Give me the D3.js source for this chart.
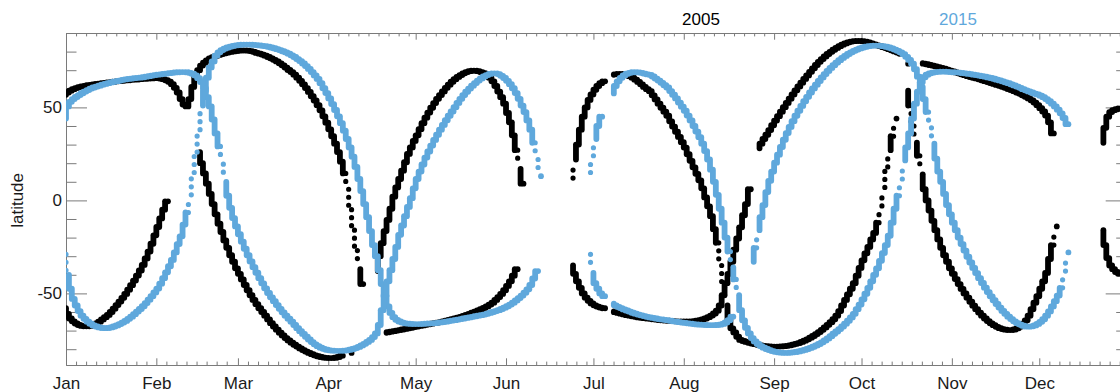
<!DOCTYPE html>
<html><head><meta charset="utf-8">
<script src="https://cdn.jsdelivr.net/npm/d3@7"></script>
<style>
html,body{margin:0;padding:0;background:#fff;}
svg{display:block;}
text{font-family:"Liberation Sans",Arial,Helvetica,sans-serif;}
</style></head><body>
<svg id="chart" width="1120" height="392"></svg>
<script>
// ---------- tick labels / categories ----------
const monthLabels = ["Jan","Feb","Mar","Apr","May","Jun","Jul","Aug","Sep","Oct","Nov","Dec"];
const monthStartDays = [0,31,59,90,120,151,181,212,243,273,304,334];
const yLabelTicks = [-50,0,50];
const yMinorTicks = [-80,-70,-60,-40,-30,-20,-10,10,20,30,40,60,70,80];
const seriesNames = ["2005","2015"];
const yTitle = "latitude";

// ---------- 2005 (black): daily latitude values, segment start day + values (null = gap) ----------
const b05_janRiseStart = 0;
const b05_janRise = [-58,-61,-63.5,-65,-66.2,-67,-67.5,-67.7,-67.7,-67.4,-66.9,-66.2,-65.2,-64,-62.8,-61.6,-60,-58.2,-56.3,-54.4,-52.4,-50.3,-48,-45.6,-43.1,-40.4,-37.7,-34.7,-31.2,-27.5,-23.3,-18.8,-14.3,-9.7,-5,-0.5];

const b05_marArcStart = 0;
const b05_marArc = [56.8,58,59,59.8,60.4,60.9,61.3,61.6,61.9,62.1,62.4,62.6,62.8,63,63.2,63.4,63.6,63.8,64,64.1,64.3,64.5,64.6,64.8,64.9,65,65.2,65.3,65.4,65.5,65.6,65.7,65.7,65.5,65.2,64.6,63.8,62.5,60.5,58,54.5,51.5,
 50.5,54.5,61,66.5,70,72.5,74,75.3,76.3,77,77.7,78.2,78.7,79.1,79.5,79.8,80.1,80.3,80.5,80.6,80.6,80.5,80.3,79.9,
 79.3,78.9,78.4,77.8,77.1,76.4,75.6,74.7,73.7,72.6,71.4,70.1,69,67.6,66,64.3,62.4,60.4,58.3,56,53.7,51.2,48.4,45.2,41.8,38.2,34.5,30.5,26,20.8,14.5,6,-5,-16,-27,-37,-45];

const b05_febFallStart = 46;
const b05_febFall = [26,20,14.5,9,3.5,-2,-7.5,-12.5,-17,-21.5,-25.5,-29.5,-33,-36.5,-39.5,-42.5,-45.5,-48.3,-51,-53.5,-55.8,-58,-60,-62,-64,-66,-67.8,-69.5,-71.1,-72.6,-74,-75.3,-76.5,-77.6,-78.6,-79.6,-80.5,-81.3,-82,-82.7,-83.3,-83.8,-84.2,-84.5,-84.7,-84.8,-84.8,-84.6,-84.2,-83.5,null,null,-82];

const b05_mayArcStart = 107;
const b05_mayArc = [-38,-30,-23,-16.5,-10.5,-4.5,2,7,11.5,16,20.5,25,28.5,32,35,38.3,41.5,44.5,47.2,49.8,52.3,54.6,56.6,58.6,60.5,62.2,63.8,65.2,66.4,67.4,68.3,69,69.5,69.7,69.7,69.5,69,68.4,67.4,66,64,61.5,58.5,55.5,52,47,42,35,27,17,9];

const b05_aprLowStart = 110;
const b05_aprLow = [-71.2,-70.9,-70.6,-70.3,-70,-69.7,-69.4,-69.1,-68.8,-68.5,-68.1,-67.8,-67.5,-67.2,-66.9,-66.6,-66.3,-66,-65.7,-65.4,-65,-64.7,-64.3,-63.9,-63.5,-63.1,-62.6,-62.1,-61.6,-61,-60.4,-59.8,-59.2,-58.5,-57.8,-57,-56,-55,-53.5,-52,-50.3,-48.3,-46,-43.5,-40.5,-37];

const b05_julRiseStart = 174;
const b05_julRise = [12,22,30,38,45,50,54,57,59.5,61.5,63,64];

const b05_julArcStart = 188;
const b05_julArc = [67.5,67.8,68,68,67.9,67.5,66.8,66,64.9,63.7,62.4,61,59.8,58.7,56.5,54.3,52,49.8,47.7,45.5,42.5,39.7,36.9,34.1,31.3,28.4,24.8,21.3,17.8,14.3,10.8,6.5,1.6,-3.2,-8.5,-15.5,-22.8,-35,-46.5,-56.5,-64,-68.8,-71,-73.3,-75,-75.6,-76.1,-76.6,-77,-77.3,-77.6,-77.9,-78.2,-78.4,-78.5,-78.6,-78.6,-78.6,-78.5,-78.4,-78.2,-77.9,-77.5,-77.1,-76.7,-76.1,-75.4,-74.7,-73.8,-72.9,-71.9,-70.8,-69.6,-68.3,-66.9,-65.5,-63.9,-62,-59.5,-56.5,-53.5,-50.5,-47.5,-44.5,-40.5,-36.3,-32.2,-28.5,-25,-21,-17.5,-12,-3,7,18,27,34.5,44];

const b05_julLowStart = 174;
const b05_julLow = [-35,-39.5,-43.5,-47,-50,-52.3,-54,-55.4,-56.4,-57.1,-57.6,-58,null,null,-59.7,-60.1,-60.5,-60.9,-61.3,-61.7,-62,-62.3,-62.6,-62.9,-63.1,-63.3,-63.5,-63.7,-63.9,-64.1,-64.3,-64.5,-64.6,-64.7,-64.8,-64.9,-65,-65,-65.1,-65.1,-65.1,-65,-64.9,-64.7,-64.4,-64,-63.5,-62.8,-61.9,-60.8,-59.3,-56.5,-51,-44.5,-39.5,-33,-26.5,-20.5,-14.5,-8,-2,6];

const b05_sepArcStart = 238;
const b05_sepArc = [28,30.5,33,35.3,37.8,40.4,42.9,45.3,47.7,50.1,52.4,54.7,57,59.2,61.3,63.3,65.3,67.2,69.1,71,72.8,74.5,76,77.4,78.7,79.9,81,82,82.9,83.7,84.4,85,85.4,85.6,85.7,85.7,85.6,85.3,84.9,84.4,83.9,83.4,82.9,82.4,81.9,81.3,80.7,80.1,79.5,78.8,null,73.5,null,null,null,null,
 73.8,73.5,73.2,72.8,72.5,72.1,71.7,71.3,70.8,70.3,69.8,69.3,68.8,68.3,67.8,67.3,66.8,66.3,65.9,65.6,65.1,64.6,64.1,63.6,63.1,62.6,62.1,61.6,61.1,60.5,59.9,59.3,58.7,58,57.3,56.5,55.7,54.8,53.8,52.6,51.2,49.6,47.8,45.6,42,36];

const b05_octFallStart = 289;
const b05_octFall = [59,51,40,31,24,14,6,0,-5.5,-11,-16,-21,-25.5,-29.5,-33,-36.5,-39.5,-42.3,-45,-47.6,-50,-52.3,-54.5,-56.6,-58.5,-60.3,-62,-63.5,-64.9,-66.1,-67.1,-68,-68.7,-69.2,-69.5,-69.7,-69.7,-69.4,-68.8,-67.8,-66.4,-64.5,-62,-58.5,-55,-51.5,-47.5,-43.5,-39,-31.5,-24,-14];

const b05_decUpStart = 356;
const b05_decUp = [31,39,45,47.5,48.5,49,49.5];
const b05_decLowStart = 356;
const b05_decLow = [-16,-24,-31,-35,-37,-38.5,-39.5];

// ---------- 2015 (blue) ----------
const b15_janRiseStart = 0;
const b15_janRise = [-29,-40,-47.5,-53,-56.5,-59.5,-62,-63.7,-65.2,-66.3,-67.2,-67.8,-68.3,-68.6,-68.7,-68.6,-68.3,-67.8,-67.2,-66.5,-65.7,-64.8,-63.7,-62.5,-61.2,-59.8,-58.4,-56.9,-55.2,-53.4,-51.5,-49.5,-47.4,-44.8,-41.8,-38.7,-35.4,-32,-28,-23.5,-19.3,-13,-6.5,3,15,26,38,51,59,66,71.5,74.7,77.8,79.6,
 80.8,81.6,82.2,82.7,83.1,83.4,83.6,83.7,83.8,83.8,83.7,83.6,83.5,83.3,83.1,82.9,82.6,82.2,81.8,81.3,80.8,80.2,79.6,78.9,78,77.1,76,74.9,73.6,72.2,70.7,69,67.2,65.3,63,60.3,57.7,54.8,51.8,48.6,45.2,41.5,37.5,33,28.5,23.5,18,11.5,5,-2,-9,-16.5,-24,-30,-37.5,-45,-51.5,-57,-60.5,-62.8,-64.2,-65.1,-65.7,-66.1,-66.3,-66.4,-66.5,-66.5,-66.5,-66.4,-66.3,-66.2,-66.1,-66,-65.8,-65.6,-65.4,-65.2,-64.9,-64.6,-64.4,-64.1,-63.8,-63.5,-63.2,-62.9,-62.6,-62.3,-62,-61.7,-61.4,-61,-60.5,-60,-59.5,-59,-58.4,-57.7,-56.9,-56,-55,-53.8,-52.5,-51.2,-49.6,-47.8,-45.5,-42,-38];

const b15_janHighStart = 0;
const b15_janHigh = [44,50.5,53,54.5,55.6,56.6,57.6,58.5,59.3,60.1,60.7,61.2,61.7,62.2,62.6,63,63.4,63.8,64.1,64.4,64.8,65.1,65.3,65.5,65.7,65.9,66,66.2,66.5,66.8,67.1,67.4,67.6,67.8,68,68.2,68.4,68.6,68.8,68.9,69,69,68.9,68.6,68.1,67.2,65.7,63.6,60.3,55.5,50.5,43.5,36,29,19.5,10,2.5,-4,-9.5,-14,-18.2,-22.2,-26,-29.5,-32.8,-35.9,-38.9,-41.8,-44.6,-47.3,-49.8,-52.1,-54.2,-56.3,-58.3,-60.2,-62,-63.6,-65.2,-67,-68.7,-70.3,-71.8,-73.3,-74.8,-76.2,-77.4,-78.4,-79.2,-79.8,-80.3,-80.6,-80.8,-80.9,-80.9,-80.9,-80.8,-80.6,-80.3,-79.9,-79.4,-78.8,-78,-77.1,-76.1,-75,-73.5,-71.5,-67,-59,-51,-43.5,-37.5,-31.5,-25,-18.5,-13.5,-8.5,-3.5,1.2,6.5,11.5,15.5,19.3,23,26.3,29.5,32.5,35.3,38,40.6,43.1,45.5,47.8,50.1,52.4,54.6,56.6,58.4,60.1,61.7,63.1,64.4,65.6,66.6,67.4,68,68.3,68.3,67.9,67,65.8,64.3,62.5,60.3,57.7,54.6,51,47.5,43,38,31,22,13];

const b15_julRiseStart = 180;
const b15_julRise = [15,24,33,40,45];

const b15_julArcStart = 188;
const b15_julArc = [57.5,61.5,64,65.9,67.2,68.1,68.6,68.9,68.9,68.8,68.6,68.2,67.8,67.5,66.6,65.5,64.4,63.2,61.9,60.7,58.8,56.8,54.8,52.6,50.4,48.2,45.6,43,40,37,34,30.5,26.5,22,16.5,10,3,-4.5,-12,-20,-27.5,-36,-42.5,-51,-59,-64.5,-68.5,-71.5,-74,-75.8,-77.2,-78.3,-79.2,-79.9,-80.5,-81,-81.4,-81.7,-81.9,-82,-82,-81.9,-81.7,-81.5,-81.2,-80.8,-80.4,-79.9,-79.3,-78.7,-78,-77.2,-76.3,-75.3,-74.2,-73,-71.7,-70.5,-69.2,-67.8,-66.3,-64.7,-62.9,-61,-58.5,-56,-53.2,-50.2,-47,-43.5,-40,-36.5,-32.5,-28.3,-24,-19,-12,-4.5,2.5,11.5,21.5,28.5,36,44,52,58.5,63.5,66.2,67.6,68.3,68.7,69,69.1,69.2,69.2,69.1,69,68.9,68.8,68.7,68.5,68.3,68.1,67.9,67.6,67.4,67.1,66.8,66.5,66.1,65.8,65.4,64.9,64.5,64,63.5,63,62.4,61.8,61.2,60.5,59.8,59.2,58.6,58,57.4,57,56.3,55.5,54.5,53.3,52,50.5,48.8,46.8,44.3,41];

const b15_julLowStart = 180;
const b15_julLow = [-29,-39,-44.5,-47.5,-50,-51.5,null,null,-55.5,-56.4,-57.2,-57.9,-58.6,-59.2,-59.8,-60.4,-60.9,-61.4,-61.8,-62.2,-62.6,-62.9,-63.2,-63.5,-63.8,-64,-64.2,-64.4,-64.7,-65,-65.2,-65.5,-65.7,-65.9,-66.1,-66.3,-66.5,-66.7,-66.8,-66.9,-67,-67.1,-67.1,-67.1,-67,-66.8,-66.4,-65.6,-64.4,-62.5];

const b15_sepArcStart = 236;
const b15_sepArc = [-33,-25.5,-16,-9,-2.5,4.5,10.5,15.5,20.3,24.6,28.7,32.6,36.2,39.5,42.6,45.5,48.2,50.8,53.3,55.7,58,60.2,62.2,64.2,66.1,67.9,69.6,71.2,72.7,74.1,75.4,76.6,77.7,78.7,79.6,80.4,81.1,81.7,82.2,82.6,82.9,83.1,83.2,83.2,83.1,82.9,82.6,82.2,81.7,81.1,80.4,79.6,78.6,77.2,75.5,73.5,70.5,66.5,61,54.5,47.5,39,30.5,22.5,15.5,10,3.5,-2.5,-7.5,-12,-16,-20,-23.5,-27,-30.3,-33.4,-36.3,-39.1,-41.8,-44.4,-46.9,-49.3,-51.6,-53.7,-55.7,-57.6,-59.4,-61,-62.5,-63.8,-65,-66,-66.8,-67.4,-67.8,-67.9,-67.7,-67.2,-66.4,-65.3,-63.9,-62,-59.7,-57,-54.2,-51.2,-47,-38,-28];

// ---------- build tables for drawing ----------
const segments2005 = [
  [b05_janRiseStart,b05_janRise],[b05_marArcStart,b05_marArc],[b05_febFallStart,b05_febFall],
  [b05_mayArcStart,b05_mayArc],[b05_aprLowStart,b05_aprLow],[b05_julRiseStart,b05_julRise],
  [b05_julArcStart,b05_julArc],[b05_julLowStart,b05_julLow],[b05_sepArcStart,b05_sepArc],
  [b05_octFallStart,b05_octFall],[b05_decUpStart,b05_decUp],[b05_decLowStart,b05_decLow]
];
const segments2015 = [
  [b15_janRiseStart,b15_janRise],[b15_janHighStart,b15_janHigh],[b15_julRiseStart,b15_julRise],
  [b15_julArcStart,b15_julArc],[b15_julLowStart,b15_julLow],[b15_sepArcStart,b15_sepArc]
];
// each daily sample: its latitude and the latitude reached by the following day (the day's sweep)
function toPoints(segs){
  const pts=[];
  segs.forEach(([s,vals])=>vals.forEach((v,i)=>{
    if(v===null) return;
    const nx = vals[i+1];
    const has = (nx!==undefined && nx!==null);
    pts.push({day:s+i,lat:v,lat2:has?nx:v,steep:has && Math.abs(nx-v)>8});
  }));
  return pts;
}
const pts2005 = toPoints(segments2005);
const pts2015 = toPoints(segments2015);

// ---------- chart ----------
const colors = {"2005":"#000000","2015":"#5fa8dc"};
const axisColor = "#7a7a7a";
const pL=66, pR=1126.7, pT=33, pB=365;
const svg = d3.select("#chart");
const x = d3.scaleLinear().domain([0,364]).range([pL,pR]);
const y = d3.scaleLinear().domain([-88.5,90]).range([pB,pT]);

svg.append("defs").append("clipPath").attr("id","plotclip")
  .append("rect").attr("x",pL).attr("y",pT).attr("width",pR-pL).attr("height",pB-pT);

// minor x ticks (within each month)
const minorX = [];
monthStartDays.forEach((m,i)=>{
  const next = i<11 ? monthStartDays[i+1] : 365;
  for(let t=m+3.45; t<next-1.7; t+=3.45) minorX.push(t);
});

function styleAxis(g){
  g.selectAll("path,line").attr("stroke",axisColor).attr("stroke-width",1);
  g.selectAll("text").attr("fill","#1a1a1a").attr("font-size",17)
   .attr("font-family",'"Liberation Sans",Arial,Helvetica,sans-serif');
}

// bottom
const gB = svg.append("g").attr("transform",`translate(0,${pB})`)
  .call(d3.axisBottom(x).tickValues(monthStartDays).tickFormat((d,i)=>monthLabels[i]).tickSizeInner(-6.7).tickSizeOuter(0).tickPadding(0));
gB.selectAll("text").attr("dy",null).attr("y",24);
styleAxis(gB);
const gBm = svg.append("g").attr("transform",`translate(0,${pB})`)
  .call(d3.axisBottom(x).tickValues(minorX).tickFormat("").tickSizeInner(-3.4).tickSizeOuter(0));
styleAxis(gBm);
// top
const gT = svg.append("g").attr("transform",`translate(0,${pT})`)
  .call(d3.axisTop(x).tickValues(monthStartDays).tickFormat("").tickSizeInner(-6.7).tickSizeOuter(0));
styleAxis(gT);
const gTm = svg.append("g").attr("transform",`translate(0,${pT})`)
  .call(d3.axisTop(x).tickValues(minorX).tickFormat("").tickSizeInner(-3.4).tickSizeOuter(0));
styleAxis(gTm);
// left
const gL = svg.append("g").attr("transform",`translate(${pL},0)`)
  .call(d3.axisLeft(y).tickValues(yLabelTicks).tickFormat(d=>String(d)).tickSizeInner(-21).tickSizeOuter(0).tickPadding(4));
styleAxis(gL);
const gLm = svg.append("g").attr("transform",`translate(${pL},0)`)
  .call(d3.axisLeft(y).tickValues(yMinorTicks).tickFormat("").tickSizeInner(-10.5).tickSizeOuter(0));
styleAxis(gLm);
// right
const gR = svg.append("g").attr("transform",`translate(${pR},0)`)
  .call(d3.axisRight(y).tickValues(yLabelTicks).tickFormat("").tickSizeInner(-21).tickSizeOuter(0));
styleAxis(gR);
const gRm = svg.append("g").attr("transform",`translate(${pR},0)`)
  .call(d3.axisRight(y).tickValues(yMinorTicks).tickFormat("").tickSizeInner(-10.5).tickSizeOuter(0));
styleAxis(gRm);

// y title
svg.append("text").attr("transform",`translate(23,${y(0)}) rotate(-90)`)
  .attr("text-anchor","middle").attr("font-size",17).attr("fill","#1a1a1a").text(yTitle);

// series titles
const titleX = {"2005":701,"2015":958};
seriesNames.forEach(n=>{
  svg.append("text").attr("x",titleX[n]).attr("y",25).attr("text-anchor","middle")
    .attr("font-size",17).attr("fill",colors[n]).text(n);
});

// dots: each day's samples drawn as a stack of round dots spanning the day's sweep
const plot = svg.append("g").attr("clip-path","url(#plotclip)");
[[pts2005,"2005"],[pts2015,"2015"]].forEach(([pts,name])=>{
  const g = plot.append("g");
  g.selectAll("line").data(pts).join("line")
    .attr("x1",d=>x(d.day)).attr("x2",d=>x(d.day))
    .attr("y1",d=>y(d.lat)).attr("y2",d=>d.steep ? y(d.lat2) + Math.sign(y(d.lat)-y(d.lat2))*4 : y(d.lat2))
    .attr("stroke",colors[name])
    .attr("stroke-width",d=>d.steep?5.2:5.8)
    .attr("stroke-linecap","round")
    .attr("stroke-dasharray",d=>d.steep?"0 8":null);
});
</script>
</body></html>
